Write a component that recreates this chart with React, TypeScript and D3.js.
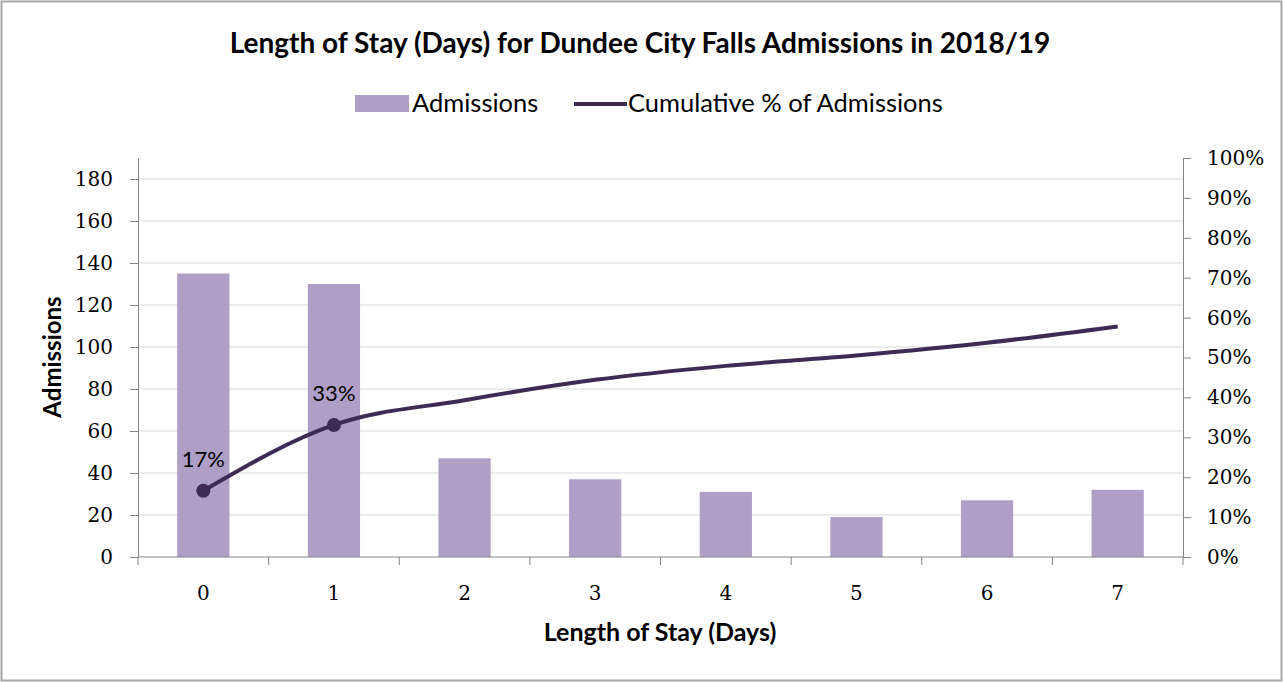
import React, { useEffect, useRef } from "react";
import * as d3 from "d3";

const days = ["0", "1", "2", "3", "4", "5", "6", "7"];
const admissions = [135, 130, 47, 37, 31, 19, 27, 32];
const cumulativePct = [16.6, 33.1, 39.3, 44.4, 47.9, 50.5, 53.7, 57.8];
const labelledDays = ["0", "1"];
const leftTicks = [0, 20, 40, 60, 80, 100, 120, 140, 160, 180];
const rightTicks = [0, 10, 20, 30, 40, 50, 60, 70, 80, 90, 100];

const App = () => {
    const svgRef = useRef<SVGSVGElement>(null);

    useEffect(() => {
        document.body.style.margin = "0";
        const width = 1283;
        const height = 682;
        const plot = { left: 138, right: 1183, top: 158, bottom: 557 };
        const sans = "Lato, 'Open Sans', sans-serif";
        const serif = "'DejaVu Serif', serif";
        const barColor = "#ae9fc7";
        const lineColor = "#3d2b56";
        const axisColor = "#868686";

        const svg = d3.select(svgRef.current).attr("width", width).attr("height", height);
        svg.selectAll("*").remove();

        svg.append("rect")
            .attr("x", 1.5).attr("y", 1.5)
            .attr("width", width - 3).attr("height", height - 3)
            .attr("fill", "#ffffff").attr("stroke", "#a6a6a6").attr("stroke-width", 2);

        const x = d3.scaleBand().domain(days).range([plot.left, plot.right])
            .paddingInner(0.6).paddingOuter(0.3);
        const yL = d3.scaleLinear().domain([0, 190]).range([plot.bottom, plot.top]);
        const yR = d3.scaleLinear().domain([0, 100]).range([plot.bottom, plot.top]);
        const cx = (d: string) => (x(d) as number) + x.bandwidth() / 2;

        // gridlines
        svg.append("g").selectAll("line").data(leftTicks.filter((t) => t > 0)).enter().append("line")
            .attr("x1", plot.left).attr("x2", plot.right)
            .attr("y1", (d) => yL(d)).attr("y2", (d) => yL(d))
            .attr("stroke", "#d9d9d9").attr("stroke-width", 1);

        // bars
        svg.append("g").selectAll("rect").data(days).enter().append("rect")
            .attr("x", (d) => x(d) as number)
            .attr("width", x.bandwidth())
            .attr("y", (d, i) => yL(admissions[i]))
            .attr("height", (d, i) => yL(0) - yL(admissions[i]))
            .attr("fill", barColor);

        // left axis
        const gl = svg.append("g").attr("transform", `translate(${plot.left},0)`)
            .call(d3.axisLeft(yL).tickValues(leftTicks).tickSize(8).tickSizeOuter(0).tickPadding(17));
        gl.selectAll("text").attr("font-family", serif).attr("font-size", 20).attr("fill", "#000");
        gl.selectAll("line,path").attr("stroke", axisColor);

        // right axis
        const gr = svg.append("g").attr("transform", `translate(${plot.right},0)`)
            .call(d3.axisRight(yR).tickValues(rightTicks).tickFormat((d) => `${d}%`)
                .tickSize(8).tickSizeOuter(0).tickPadding(16));
        gr.selectAll("text").attr("font-family", serif).attr("font-size", 20).attr("fill", "#000");
        gr.selectAll("line,path").attr("stroke", axisColor);

        // bottom axis
        const boundaries = d3.range(days.length + 1).map((i) => plot.left + i * x.step());
        svg.append("line")
            .attr("x1", plot.left).attr("x2", plot.right)
            .attr("y1", plot.bottom).attr("y2", plot.bottom)
            .attr("stroke", axisColor);
        svg.append("g").selectAll("line").data(boundaries).enter().append("line")
            .attr("x1", (d) => d).attr("x2", (d) => d)
            .attr("y1", plot.bottom).attr("y2", plot.bottom + 8)
            .attr("stroke", axisColor);
        svg.append("g").selectAll("text").data(days).enter().append("text")
            .attr("x", cx).attr("y", 600)
            .attr("text-anchor", "middle")
            .attr("font-family", serif).attr("font-size", 20)
            .text((d) => d);

        // cumulative line
        const line = d3.line<string>()
            .x(cx)
            .y((d, i) => yR(cumulativePct[i]))
            .curve(d3.curveMonotoneX);
        svg.append("path")
            .attr("d", line(days))
            .attr("fill", "none")
            .attr("stroke", lineColor)
            .attr("stroke-width", 4);

        const pts = days.map((d, i) => ({ d, v: cumulativePct[i] })).filter((p) => labelledDays.includes(p.d));
        svg.append("g").selectAll("circle").data(pts).enter().append("circle")
            .attr("cx", (p) => cx(p.d)).attr("cy", (p) => yR(p.v))
            .attr("r", 7).attr("fill", lineColor);
        svg.append("g").selectAll("text").data(pts).enter().append("text")
            .attr("x", (p) => cx(p.d)).attr("y", (p) => yR(p.v) - 24)
            .attr("text-anchor", "middle")
            .attr("font-family", sans).attr("font-size", 22)
            .text((p) => `${Math.round(p.v)}%`);

        // title
        svg.append("text")
            .attr("x", 640).attr("y", 53)
            .attr("text-anchor", "middle")
            .attr("font-family", sans).attr("font-weight", "bold").attr("font-size", 28)
            .text("Length of Stay (Days) for Dundee City Falls Admissions in 2018/19");

        // legend
        svg.append("rect").attr("x", 355).attr("y", 95).attr("width", 54).attr("height", 17).attr("fill", barColor);
        svg.append("text").attr("x", 412).attr("y", 112)
            .attr("font-family", sans).attr("font-size", 25.5)
            .text("Admissions");
        svg.append("line").attr("x1", 574).attr("x2", 627).attr("y1", 104).attr("y2", 104)
            .attr("stroke", lineColor).attr("stroke-width", 4);
        svg.append("text").attr("x", 628).attr("y", 112)
            .attr("font-family", sans).attr("font-size", 25.5)
            .text("Cumulative % of Admissions");

        // axis titles
        svg.append("text")
            .attr("transform", `translate(61,357) rotate(-90)`)
            .attr("text-anchor", "middle")
            .attr("font-family", sans).attr("font-weight", "bold").attr("font-size", 24)
            .text("Admissions");
        svg.append("text")
            .attr("x", 660).attr("y", 641)
            .attr("text-anchor", "middle")
            .attr("font-family", sans).attr("font-weight", "bold").attr("font-size", 25)
            .text("Length of Stay (Days)");
    }, []);

    return <svg ref={svgRef}></svg>;
};

export default App;
